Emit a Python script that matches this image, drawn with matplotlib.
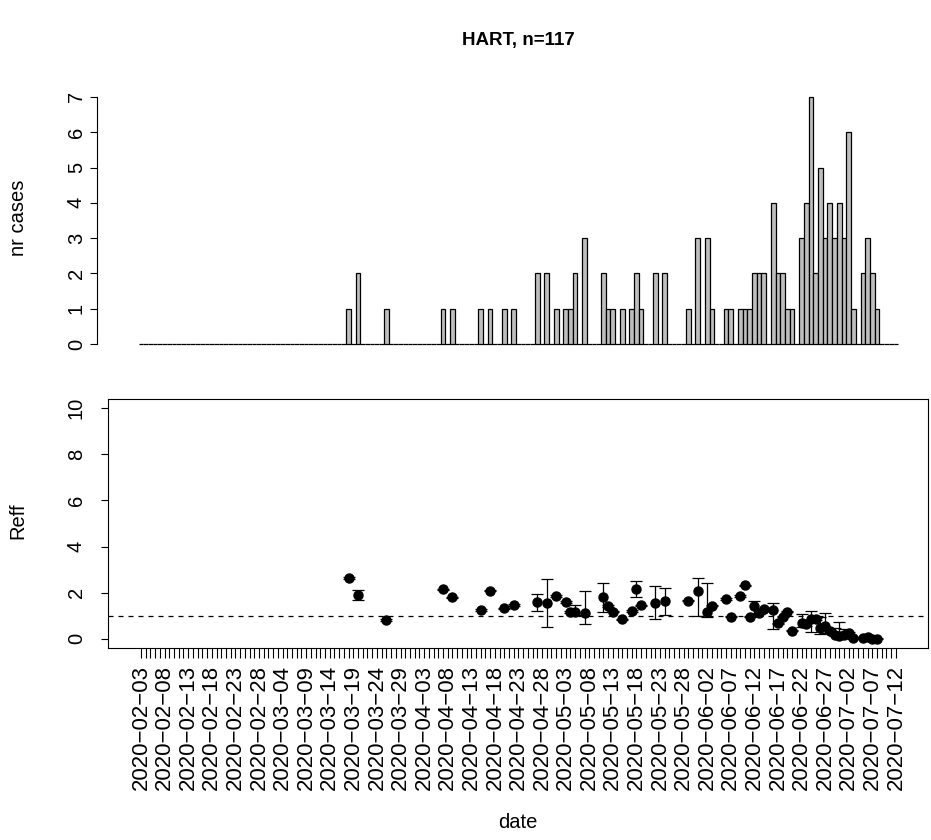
import numpy as np
import pandas as pd
import matplotlib
matplotlib.use('Agg')
import matplotlib.pyplot as plt

plt.rcParams['font.family'] = ['Liberation Sans', 'DejaVu Sans']

# days since 2020-02-03 with reported cases, and the counts
case_days = [44, 46, 52, 64, 66, 72, 74, 77, 79, 84, 86, 88, 90, 91, 92, 94,
             98, 99, 100, 102, 104, 105, 106, 109, 111, 116, 118, 120, 121,
             124, 125, 127, 128, 129, 130, 131, 132, 134, 135, 136, 137, 138,
             140, 141, 142, 143, 144, 145, 146, 147, 148, 149, 150, 151, 153,
             154, 155, 156]
case_counts = [1, 2, 1, 1, 1, 1, 1, 1, 1, 2, 2, 1, 1, 1, 2, 3,
               2, 1, 1, 1, 1, 2, 1, 2, 2, 1, 3, 3, 1,
               1, 1, 1, 1, 1, 2, 2, 2, 4, 2, 2, 1, 1,
               3, 4, 7, 2, 5, 3, 4, 3, 4, 3, 6, 1, 2,
               3, 2, 1]

# effective reproduction number estimates (mean, lower, upper)
reff_days = [44, 46, 52, 64, 66, 72, 74, 77, 79, 84, 86, 88, 90, 91, 92, 94,
             98, 99, 100, 102, 104, 105, 106, 109, 111, 116, 118, 120, 121,
             124, 125, 127, 128, 129, 130, 131, 132, 134, 135, 136, 137, 138,
             140, 141, 142, 143, 144, 145, 146, 147, 148, 149, 150, 151, 153,
             154, 155, 156]
reff_mean = [2.62, 1.90, 0.82, 2.15, 1.80, 1.25, 2.09, 1.32, 1.47, 1.58, 1.55, 1.86, 1.60, 1.16, 1.18, 1.10,
             1.80, 1.43, 1.18, 0.84, 1.21, 2.15, 1.45, 1.57, 1.62, 1.65, 2.09, 1.15, 1.44,
             1.73, 0.96, 1.86, 2.32, 0.96, 1.44, 1.10, 1.28, 1.25, 0.67, 0.96, 1.18, 0.35,
             0.67, 0.65, 0.86, 0.86, 0.45, 0.55, 0.35, 0.17, 0.12, 0.16, 0.24, 0.03, 0.05,
             0.06, 0.01, 0.00]
reff_lo = [2.58, 1.68, 0.79, 2.12, 1.77, 1.22, 2.06, 1.29, 1.44, 1.22, 0.50, 1.83, 1.57, 1.13, 1.05, 0.64,
           1.18, 1.40, 1.15, 0.81, 1.18, 1.80, 1.42, 0.84, 1.01, 1.62, 1.00, 0.93, 1.41,
           1.70, 0.93, 1.83, 2.29, 0.93, 1.00, 1.07, 1.25, 0.41, 0.64, 0.93, 1.15, 0.32,
           0.50, 0.55, 0.30, 0.80, 0.20, 0.24, 0.30, 0.10, 0.08, 0.10, 0.20, 0.00, 0.02,
           0.03, 0.00, 0.00]
reff_hi = [2.66, 2.12, 0.85, 2.18, 1.83, 1.28, 2.12, 1.35, 1.50, 1.94, 2.59, 1.89, 1.63, 1.19, 1.45, 2.09,
           2.41, 1.46, 1.21, 0.87, 1.24, 2.51, 1.48, 2.30, 2.20, 1.68, 2.65, 2.44, 1.47,
           1.76, 0.99, 1.89, 2.35, 0.99, 1.65, 1.13, 1.31, 1.54, 0.70, 0.99, 1.21, 0.38,
           1.08, 0.80, 1.22, 0.92, 0.95, 1.10, 0.40, 0.45, 0.72, 0.43, 0.28, 0.06, 0.08,
           0.09, 0.04, 0.03]

dates = pd.date_range('2020-02-03', '2020-07-12')
n_days = len(dates)
all_days = np.arange(n_days)
counts = np.zeros(n_days)
counts[case_days] = case_counts

W, H = 931, 840
fig = plt.figure(figsize=(W / 100, H / 100), dpi=100)

# top panel: bar chart of cases
ax1 = fig.add_axes([97 / W, 1 - 354 / H, (928 - 97) / W, (354 - 87) / H])
ax1.bar(all_days, counts, width=1.0, color='#BEBEBE', edgecolor='black', linewidth=0.9)
ax1.set_xlim(-9.3, 166.8)
ax1.set_ylim(-0.28, 7.28)
for s in ['top', 'right', 'bottom']:
    ax1.spines[s].set_visible(False)
ax1.spines['left'].set_bounds(0, 7)
ax1.set_xticks([])
ax1.set_yticks(range(8))
ax1.set_yticklabels([str(i) for i in range(8)], rotation=90, va='center', fontsize=14.5)
ax1.tick_params(axis='y', length=5, width=0.8, pad=3)

# bottom panel: Reff with intervals
ax2 = fig.add_axes([108 / W, 1 - 648 / H, (928 - 108) / W, (648 - 399) / H])
r_mean = np.array(reff_mean)
yerr = [r_mean - np.array(reff_lo), np.array(reff_hi) - r_mean]
ax2.errorbar(reff_days, r_mean, yerr=yerr, fmt='o', color='black', ms=6.5,
             elinewidth=0.9, capsize=4.3, capthick=0.9)
ax2.axhline(1, color='black', linewidth=0.9, linestyle=(0, (4, 4)))
ax2.set_xlim(-7, 166.8)
ax2.set_ylim(-0.4, 10.4)
ax2.set_yticks(range(0, 11, 2))
ax2.set_yticklabels([str(i) for i in range(0, 11, 2)], rotation=90, va='center', fontsize=14.5)
ax2.tick_params(axis='y', length=5, width=0.8, pad=11)
xlabels = [d.strftime('%Y-%m-%d').replace('-', '\u2212') if i % 5 == 0 else ''
           for i, d in enumerate(dates)]
ax2.set_xticks(all_days)
ax2.set_xticklabels(xlabels, rotation=90, fontsize=16)
ax2.tick_params(axis='x', length=7, width=0.8, pad=5)
for s in ax2.spines.values():
    s.set_linewidth(0.8)

fig.text(518 / W, 1 - 40 / H, 'HART, n=117', ha='center', va='center',
         fontsize=13.5, fontweight='bold')
fig.text(18 / W, 1 - 218 / H, 'nr cases', rotation=90, ha='center', va='center', fontsize=14.5)
fig.text(18 / W, 1 - 521 / H, 'Reff', rotation=90, ha='center', va='center', fontsize=14.5)
fig.text(518 / W, 1 - 822 / H, 'date', ha='center', va='center', fontsize=14.5)

fig.savefig('out.png', dpi=100)
